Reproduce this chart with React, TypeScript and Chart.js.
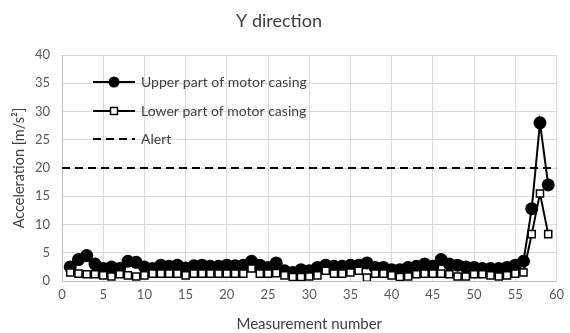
import React, { useEffect, useRef } from "react";
import { Chart, registerables } from "chart.js";

Chart.register(...registerables);

const measurement: number[] = Array.from({ length: 59 }, (_, i) => i + 1);
const upperCasing: number[] = [
  2.5, 3.8, 4.5, 3.0, 2.2, 2.5, 2.2, 3.5, 3.3, 2.5,
  2.2, 2.8, 2.6, 2.8, 2.3, 2.7, 2.8, 2.6, 2.6, 2.8,
  2.7, 2.8, 3.5, 2.8, 2.4, 3.2, 1.8, 1.5, 2.0, 1.8,
  2.4, 2.8, 2.6, 2.6, 2.8, 2.8, 3.2, 2.4, 2.4, 2.0,
  2.0, 2.4, 2.6, 3.0, 2.6, 3.8, 3.0, 2.8, 2.5, 2.4,
  2.2, 2.2, 2.2, 2.4, 2.8, 3.5, 12.8, 28.0, 17.0,
];
const lowerCasing: number[] = [
  1.5, 1.3, 1.2, 1.2, 1.0, 0.8, 1.2, 1.0, 0.8, 1.0,
  1.3, 1.3, 1.3, 1.3, 1.0, 1.3, 1.3, 1.3, 1.3, 1.3,
  1.3, 1.3, 2.2, 1.3, 1.3, 1.4, 1.0, 0.7, 0.7, 0.8,
  1.0, 1.8, 1.3, 1.3, 1.5, 1.8, 0.6, 1.3, 1.3, 1.0,
  0.7, 0.8, 1.2, 1.3, 1.3, 1.3, 1.2, 0.8, 0.8, 1.2,
  1.2, 1.0, 0.8, 1.0, 1.3, 1.5, 8.3, 15.5, 8.3,
];
const alertX: number[] = [0, 60];
const alertLevel = 20;

const seriesNames = ["Upper part of motor casing", "Lower part of motor casing", "Alert"];
const titleText = "Y direction";
const xTitle = "Measurement number";
const yTitle = "Acceleration [m/s²]";

const FONT = "Lato, 'Open Sans', sans-serif";

const legendPlugin = {
  id: "insideLegend",
  afterDraw(chart: any) {
    const ctx = chart.ctx;
    const rows = [82, 111, 139];
    const x0 = 93;
    const x1 = 135;
    ctx.save();
    ctx.strokeStyle = "#000";
    ctx.fillStyle = "#000";
    ctx.lineWidth = 2;
    ctx.setLineDash([]);
    ctx.beginPath();
    ctx.moveTo(x0, rows[0]);
    ctx.lineTo(x1, rows[0]);
    ctx.stroke();
    ctx.beginPath();
    ctx.arc((x0 + x1) / 2, rows[0], 5.5, 0, Math.PI * 2);
    ctx.fill();
    ctx.beginPath();
    ctx.moveTo(x0, rows[1]);
    ctx.lineTo(x1, rows[1]);
    ctx.stroke();
    ctx.fillStyle = "#fff";
    ctx.lineWidth = 1.5;
    ctx.fillRect((x0 + x1) / 2 - 3.5, rows[1] - 3.5, 7, 7);
    ctx.strokeRect((x0 + x1) / 2 - 3.5, rows[1] - 3.5, 7, 7);
    ctx.lineWidth = 2;
    ctx.setLineDash([8, 5]);
    ctx.beginPath();
    ctx.moveTo(x0, rows[2]);
    ctx.lineTo(x1, rows[2]);
    ctx.stroke();
    ctx.setLineDash([]);
    ctx.fillStyle = "#404040";
    ctx.font = `14px ${FONT}`;
    ctx.textBaseline = "middle";
    ctx.textAlign = "left";
    seriesNames.forEach((n, i) => ctx.fillText(n, 141, rows[i]));
    ctx.restore();
  },
};

export default function App() {
  const ref = useRef<HTMLCanvasElement | null>(null);
  useEffect(() => {
    document.body.style.margin = "0";
    const canvas = ref.current!;
    const chart = new Chart(canvas, {
      type: "line",
      data: {
        datasets: [
          {
            label: seriesNames[1],
            data: measurement.map((m, i) => ({ x: m, y: lowerCasing[i] })),
            borderColor: "#000",
            borderWidth: 2,
            pointStyle: "rect",
            pointRadius: 5,
            pointBackgroundColor: "#fff",
            pointBorderColor: "#000",
            pointBorderWidth: 1.5,
            tension: 0,
            order: 0,
          },
          {
            label: seriesNames[0],
            data: measurement.map((m, i) => ({ x: m, y: upperCasing[i] })),
            borderColor: "#000",
            borderWidth: 2,
            pointStyle: "circle",
            pointRadius: 5.5,
            pointBackgroundColor: "#000",
            pointBorderColor: "#000",
            tension: 0,
            order: 1,
          },
          {
            label: seriesNames[2],
            data: alertX.map((x) => ({ x, y: alertLevel })),
            borderColor: "#000",
            borderWidth: 2,
            borderDash: [8, 5],
            pointRadius: 0,
            order: 2,
          },
        ],
      },
      options: {
        animation: false,
        responsive: false,
        events: [],
        layout: { padding: { left: 0, right: 12, top: 0, bottom: 0 } },
        plugins: {
          legend: { display: false },
          tooltip: { enabled: false },
          title: {
            display: true,
            text: titleText,
            color: "#404040",
            font: { family: FONT, size: 18, weight: "normal" },
            padding: { top: 10, bottom: 23.4 },
          },
        },
        scales: {
          x: {
            type: "linear",
            min: 0,
            max: 60,
            ticks: { stepSize: 5, color: "#595959", font: { family: FONT, size: 13 }, padding: 6, maxRotation: 0 },
            grid: { color: "#d9d9d9", drawTicks: false },
            border: { color: "#bfbfbf" },
            title: {
              display: true,
              text: xTitle,
              color: "#404040",
              font: { family: FONT, size: 15 },
              padding: { top: 0, bottom: 0 },
            },
            afterFit: (s: any) => {
              s.height = 52;
            },
          },
          y: {
            min: 0,
            max: 40,
            ticks: { stepSize: 5, color: "#595959", font: { family: FONT, size: 13 }, padding: 12 },
            grid: { color: "#d9d9d9", drawTicks: false },
            border: { color: "#bfbfbf" },
            title: {
              display: true,
              text: yTitle,
              color: "#404040",
              font: { family: FONT, size: 14.5 },
              padding: { top: 11, bottom: 0 },
            },
            afterFit: (s: any) => {
              s.width = 62;
            },
          },
        },
      },
      plugins: [legendPlugin],
    });
    return () => chart.destroy();
  }, []);
  return <canvas ref={ref} width={570} height={333} style={{ display: "block" }} />;
}
